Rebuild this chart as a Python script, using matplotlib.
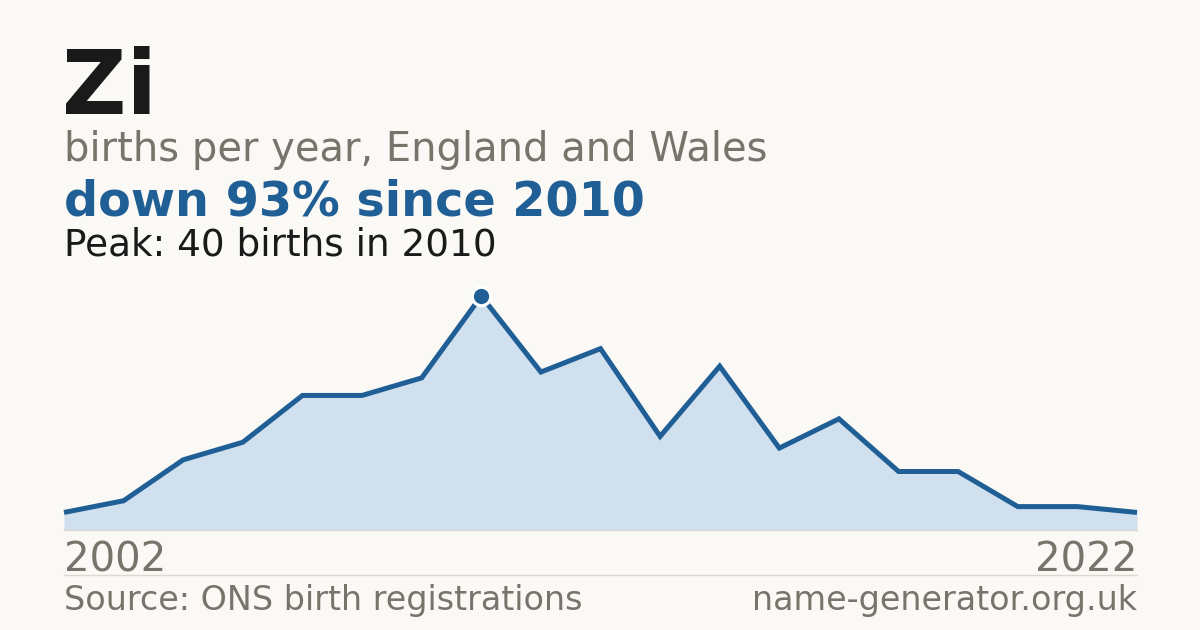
import numpy as np
import matplotlib.pyplot as plt

name = "Zi"
subtitle = "births per year, England and Wales"
headline = "down 93% since 2010"
peak_text = "Peak: 40 births in 2010"
first_year = "2002"
last_year = "2022"
source = "Source: ONS birth registrations"
site = "name-generator.org.uk"

births = [3, 5, 12, 15, 23, 23, 26, 40, 27, 31, 16, 28, 14, 19, 10, 10, 4, 4, 3]
peak_idx = 7

bg = "#faf9f5"
blue = "#1f5f96"
fill = "#d0e0ef"
grey = "#78736b"

W, H = 1200, 630
fig = plt.figure(figsize=(12, 6.3), dpi=100)
fig.patch.set_facecolor(bg)

x = np.arange(len(births))
ax = fig.add_axes([64 / W, (H - 530) / H, (1137 - 64) / W, (530 - 296) / H])
ax.set_facecolor(bg)
ax.fill_between(x, births, 0, color=fill, lw=0)
ax.plot(x, births, color=blue, lw=3.6, solid_joinstyle="miter",
        solid_capstyle="butt", clip_on=False)
# peak marker: white halo under a blue dot
ax.plot(x[peak_idx], births[peak_idx], "o", ms=15.5, color="white", mew=0,
        clip_on=False, zorder=4)
ax.plot(x[peak_idx], births[peak_idx], "o", ms=11, color=blue, mew=0,
        clip_on=False, zorder=5)
ax.set_xlim(0, len(births) - 1)
ax.set_ylim(0, 40)
ax.axis("off")

# thin baseline and separator
fig.add_artist(plt.Line2D([64 / W, 1137 / W], [(H - 530) / H] * 2, color="#dcd9d2", lw=1))
fig.add_artist(plt.Line2D([64 / W, 1137 / W], [(H - 575) / H] * 2, color="#dcd9d2", lw=1))

def put(px, py, s, **kw):
    fig.text(px / W, 1 - py / H, s, **kw)

put(62, 114, name, fontsize=64, fontweight="bold", color="#1a1a1a", va="baseline")
put(64, 161, subtitle, fontsize=28.8, color=grey, va="baseline")
put(64, 215, headline, fontsize=34.4, fontweight="bold", color=blue, va="baseline")
put(64, 255, peak_text, fontsize=26.9, color="#1a1a1a", va="baseline")
put(64, 571, first_year, fontsize=29, color=grey, va="baseline")
put(1137, 571, last_year, fontsize=29, color=grey, va="baseline", ha="right")
put(64, 610, source, fontsize=24, color=grey, va="baseline")
put(1137, 610, site, fontsize=24, color=grey, va="baseline", ha="right")

fig.savefig("out.png", dpi=100, facecolor=bg)
